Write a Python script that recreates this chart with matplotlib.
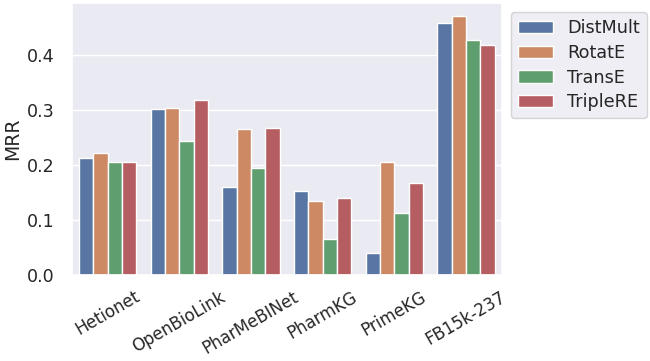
import matplotlib
matplotlib.use("Agg")
import matplotlib.pyplot as plt
import seaborn as sns
import pandas as pd

datasets = ["Hetionet", "OpenBioLink", "PharMeBINet", "PharmKG", "PrimeKG", "FB15k-237"]
models = ["DistMult", "RotatE", "TransE", "TripleRE"]
distmult = [0.212, 0.302, 0.159, 0.153, 0.040, 0.459]
rotate = [0.221, 0.303, 0.265, 0.134, 0.206, 0.471]
transe = [0.206, 0.243, 0.195, 0.064, 0.112, 0.427]
triplere = [0.205, 0.319, 0.267, 0.140, 0.166, 0.419]

series = {"DistMult": distmult, "RotatE": rotate, "TransE": transe, "TripleRE": triplere}
rows = []
for m in models:
    for d, v in zip(datasets, series[m]):
        rows.append({"dataset": d, "model": m, "MRR": v})
df = pd.DataFrame(rows)

sns.set_theme(style="darkgrid")
plt.rcParams['font.family'] = ['DejaVu Sans']
plt.rcParams['ytick.major.pad'] = plt.rcParams['ytick.major.pad'] + 2.5
plt.rcParams['ytick.labelsize'] = 12.6
plt.rcParams['xtick.labelsize'] = 12

W, H = 650, 361
fig = plt.figure(figsize=(6.5, 3.61), dpi=100)
ax = fig.add_axes([71.7/W, 1-274.5/H, 430/W, (274.5-3.3)/H])
sns.barplot(data=df, x="dataset", y="MRR", hue="model", ax=ax,
            order=datasets, hue_order=models)
ax.set_xlabel("")
ax.set_ylabel("MRR", fontsize=13.5, labelpad=3.5)
ax.set_yticks([0.0, 0.1, 0.2, 0.3, 0.4])
plt.setp(ax.get_xticklabels(), rotation=30)
ax.legend(loc="upper left", bbox_to_anchor=(1.0, 1.0), fontsize=12.7,
          labelspacing=0.38)

fig.savefig("out.png", dpi=100)
